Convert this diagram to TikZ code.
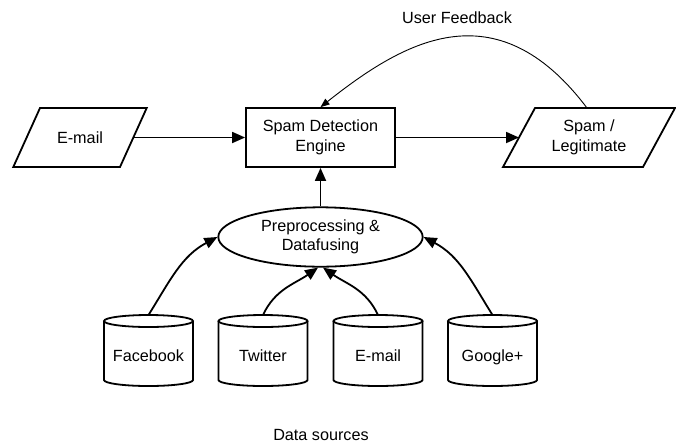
\documentclass[tikz,border=0pt]{standalone}
\usepackage{fontspec}
\setmainfont{Liberation Sans}
\usetikzlibrary{arrows.meta,shapes.geometric,calc}

\begin{document}
\begin{tikzpicture}[x=1pt,y=1pt,
  font=\fontsize{16.2pt}{19.5pt}\selectfont,
  outline/.style={line width=1.8pt, line join=miter},
  edge/.style={line width=1.8pt, -{Triangle[length=13pt,width=11pt]}},
  thinedge/.style={line width=0.9pt, -{Triangle[length=9pt,width=7pt]}},
  slantbox/.style={rectangle, minimum width=#1, minimum height=59pt,
    inner sep=0pt, outer sep=0pt, align=center},
  procbox/.style={rectangle, draw, line width=1.8pt, minimum width=149pt,
    minimum height=59pt, inner sep=0pt, align=center},
  fusebox/.style={ellipse, draw, line width=1.8pt, minimum width=204.4pt,
    minimum height=59.4pt, inner sep=0pt, align=center},
  store/.style={rectangle, minimum width=89pt, minimum height=71pt,
    inner sep=0pt, outer sep=0pt, text height=22pt, text depth=0pt},
  plain/.style={inner sep=0pt}
]
\fill[white] (0,0) rectangle (676,-445);
\useasboundingbox (0,0) rectangle (676,-445);

% main flow
\node[slantbox=133.4pt] (mailin)  at (80,-137.5)    {E-mail};
\node[procbox]          (engine)  at (320.5,-137.5) {Spam Detection\\Engine};
\node[slantbox=172pt]   (verdict) at (589,-137.5)   {Spam /\\Legitimate};
\node[fusebox]          (fuse)    at (320.5,-237)   {Preprocessing \&\\Datafusing};

% data stores
\node[store] (fb) at (148.5,-350.5) {Facebook};
\node[store] (tw) at (263,-350.5)   {Twitter};
\node[store] (em) at (378,-350.5)   {E-mail};
\node[store] (gp) at (492.5,-350.5) {Google+};

\node[plain] (fbk) at (457,-18)  {User Feedback};
\node[plain] (src) at (321,-435) {Data sources};

% parallelogram outlines
\draw[outline] ([xshift=26.7pt]mailin.north west) -- (mailin.north east)
  -- ([xshift=-26.7pt]mailin.south east) -- (mailin.south west) -- cycle;
\draw[outline] ([xshift=32pt]verdict.north west) -- (verdict.north east)
  -- ([xshift=-32pt]verdict.south east) -- (verdict.south west) -- cycle;

% cylinder outlines
\foreach \c in {fb,tw,em,gp}{
  \draw[outline] ([yshift=-6pt]\c.north west) -- ([yshift=6pt]\c.south west)
    arc[start angle=180,end angle=360,x radius=44.5pt,y radius=6pt]
    -- ([yshift=-6pt]\c.north east);
  \draw[outline] ([yshift=-6pt]\c.north) ellipse[x radius=44.5pt,y radius=6pt];
}

% connectors
\draw[edge] ([xshift=-13.35pt]mailin.east) -- (engine.west);
\draw[edge] (engine.east) -- ([xshift=16pt]verdict.west);
\draw[edge] (fuse.north) -- (engine.south);
\draw[edge] (fb.north) to[out=58,in=208] (fuse.west);
\draw[edge] (tw.north) to[out=65,in=215] ([xshift=-2.5pt]fuse.south);
\draw[edge] (em.north) to[out=115,in=-35] ([xshift=2.5pt]fuse.south);
\draw[edge] (gp.north) to[out=122,in=-28] (fuse.east);
\draw[thinedge] ([xshift=-2pt]verdict.north)
  .. controls (495,14) and (401.5,-43) .. (engine.north);
\end{tikzpicture}
\end{document}
